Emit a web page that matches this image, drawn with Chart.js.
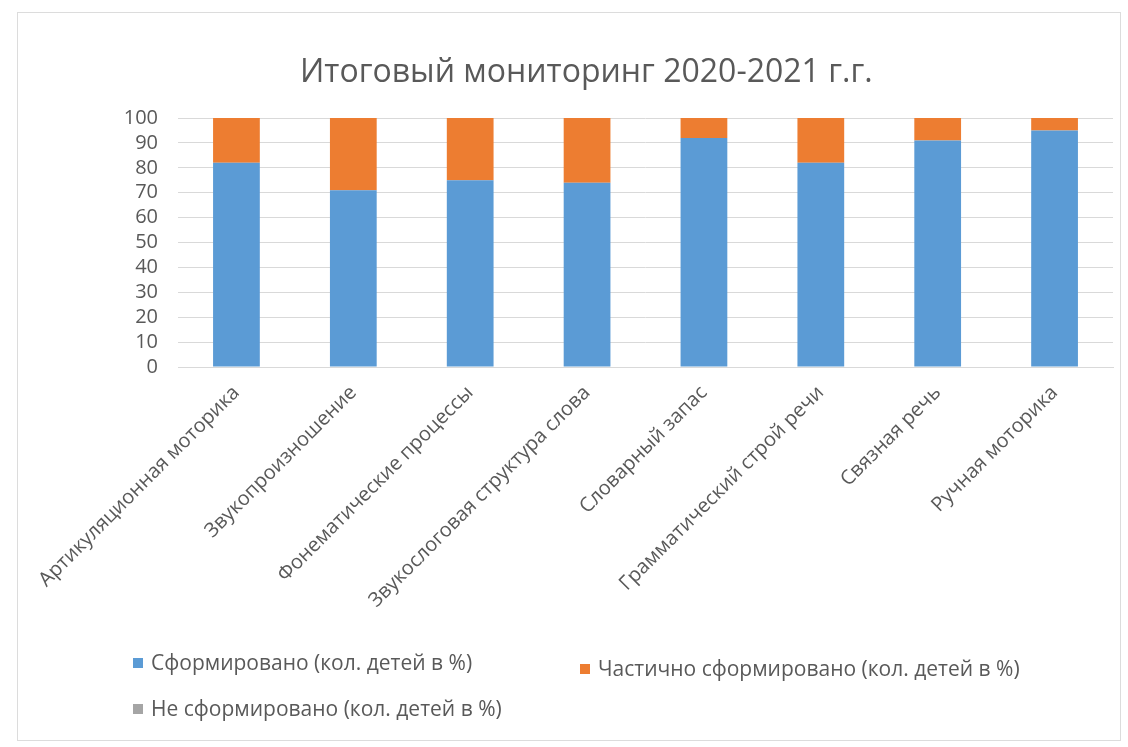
<!DOCTYPE html>
<html>
<head>
<meta charset="utf-8">
<script src="https://cdn.jsdelivr.net/npm/chart.js@4.4.1/dist/chart.umd.min.js"></script>
<style>
  html, body { margin: 0; padding: 0; background: #ffffff; }
  #wrap { position: relative; width: 1128px; height: 747px; overflow: hidden; }
  #frame { position: absolute; left: 17px; top: 12px; width: 1104px; height: 729px; border: 1px solid #dcdcdc; box-sizing: border-box; }
  #chart { position: absolute; left: 0; top: 0; }
  #title { position: absolute; left: 300px; top: 50px; font-family: 'Open Sans', sans-serif; font-size: 32px; line-height: 40px; color: #595959; white-space: nowrap; }
  .lg { position: absolute; font-family: 'Open Sans', sans-serif; font-size: 21px; color: #595959; white-space: nowrap; line-height: 24px; }
  .lg i { display: inline-block; width: 10px; height: 10px; margin-right: 8px; vertical-align: 2px; }
</style>
</head>
<body>
<div id="wrap">
  <div id="frame"></div>
  <canvas id="chart" width="1128" height="747"></canvas>
  <div id="title"></div>
  <div id="legend"></div>
</div>
<script>
const chartTitle = 'Итоговый мониторинг 2020-2021 г.г.';
const categories = [
  'Артикуляционная моторика',
  'Звукопроизношение',
  'Фонематические процессы',
  'Звукослоговая структура слова',
  'Словарный запас',
  'Грамматический строй речи',
  'Связная речь',
  'Ручная моторика'
];
const seriesNames = [
  'Сформировано (кол. детей в %)',
  'Частично сформировано (кол. детей в %)',
  'Не сформировано (кол. детей в %)'
];
const formed    = [82, 71, 75, 74, 92, 82, 91, 95];
const partial   = [18, 29, 25, 26, 8, 18, 9, 5];
const notFormed = [0, 0, 0, 0, 0, 0, 0, 0];
const yTicks = [0, 10, 20, 30, 40, 50, 60, 70, 80, 90, 100];

const colors = ['#5b9bd5', '#ed7d31', '#a5a5a5'];
const textColor = '#595959';
const fontFamily = "'Open Sans', sans-serif";

document.getElementById('title').textContent = chartTitle;

const ctx = document.getElementById('chart').getContext('2d');
new Chart(ctx, {
  type: 'bar',
  data: {
    labels: categories,
    datasets: [
      { label: seriesNames[0], data: formed, backgroundColor: colors[0] },
      { label: seriesNames[1], data: partial, backgroundColor: colors[1] },
      { label: seriesNames[2], data: notFormed, backgroundColor: colors[2] }
    ]
  },
  options: {
    responsive: false,
    animation: false,
    devicePixelRatio: 1,
    layout: { padding: { left: 0, right: 15, top: 118, bottom: 0 } },
    datasets: { bar: { barPercentage: 0.8, categoryPercentage: 0.5 } },
    plugins: {
      legend: { display: false },
      tooltip: { enabled: false },
      title: { display: false }
    },
    scales: {
      x: {
        stacked: true,
        grid: { display: false },
        border: { display: true, color: '#d9d9d9' },
        ticks: {
          color: textColor,
          font: { family: fontFamily, size: 20 },
          minRotation: 45,
          maxRotation: 45,
          autoSkip: false,
          padding: 6
        },
        afterFit(scale) { scale.height = 747 - 367; }
      },
      y: {
        stacked: true,
        min: 0,
        max: 100,
        afterBuildTicks(scale) { scale.ticks = yTicks.map(v => ({ value: v })); },
        grid: { color: '#d9d9d9', drawTicks: false },
        border: { display: false },
        ticks: {
          color: textColor,
          font: { family: fontFamily, size: 20 },
          autoSkip: false,
          padding: 20
        },
        afterFit(scale) { scale.width = 178; }
      }
    }
  }
});

const legendItems = [
  { left: 133, top: 650 },
  { left: 580, top: 656 },
  { left: 133, top: 696 }
];
const lg = document.getElementById('legend');
seriesNames.forEach((name, i) => {
  const d = document.createElement('div');
  d.className = 'lg';
  d.style.left = legendItems[i].left + 'px';
  d.style.top = legendItems[i].top + 'px';
  const box = document.createElement('i');
  box.style.background = colors[i];
  d.appendChild(box);
  d.appendChild(document.createTextNode(name));
  lg.appendChild(d);
});
</script>
</body>
</html>
